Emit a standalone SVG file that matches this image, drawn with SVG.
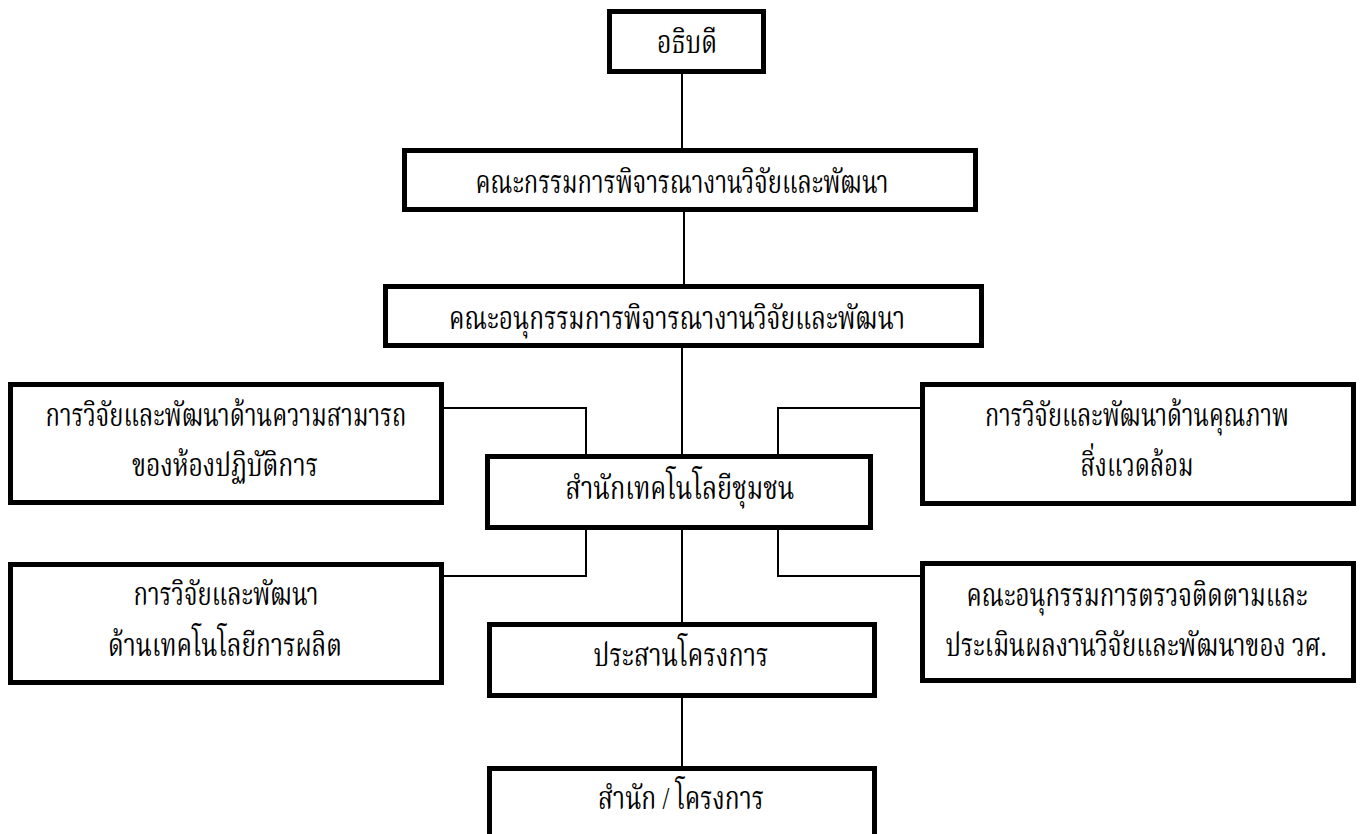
<svg xmlns="http://www.w3.org/2000/svg" width="1360" height="834" viewBox="0 0 1360 834">
<style>
.box{fill:#fff;stroke:#000;stroke-width:5}
.c{fill:none;stroke:#000;stroke-width:2}
text{font-family:"Liberation Serif","DejaVu Serif","Noto Serif Thai","Noto Sans Thai",serif;font-size:32px;fill:#000;text-anchor:middle}
</style>
<rect width="1360" height="834" fill="#fff"/>
<g id="connectors">
<line class="c" x1="682" y1="74" x2="682" y2="148"/>
<line class="c" x1="684" y1="212" x2="684" y2="284"/>
<line class="c" x1="682" y1="348" x2="682" y2="454"/>
<polyline class="c" points="444,408 586,408 586,454"/>
<polyline class="c" points="920,408 778,408 778,454"/>
<polyline class="c" points="586,530 586,576 444,576"/>
<polyline class="c" points="778,530 778,576 920,576"/>
<line class="c" x1="682" y1="530" x2="682" y2="622"/>
<line class="c" x1="682" y1="698" x2="682" y2="766"/>
</g>
<g id="n1"><rect class="box" x="609.5" y="11.5" width="154" height="60"/><text x="687" y="53" textLength="60" lengthAdjust="spacingAndGlyphs">อธิบดี</text></g>
<g id="n2"><rect class="box" x="404.5" y="150.5" width="571" height="59"/><text x="682" y="193" textLength="413" lengthAdjust="spacingAndGlyphs">คณะกรรมการพิจารณางานวิจัยและพัฒนา</text></g>
<g id="n3"><rect class="box" x="385.5" y="286.5" width="596" height="59"/><text x="677" y="329" textLength="456" lengthAdjust="spacingAndGlyphs">คณะอนุกรรมการพิจารณางานวิจัยและพัฒนา</text></g>
<g id="n4"><rect class="box" x="10.5" y="384.5" width="431" height="118"/><text x="226" y="426" textLength="361" lengthAdjust="spacingAndGlyphs">การวิจัยและพัฒนาด้านความสามารถ</text><text x="225" y="476" textLength="186" lengthAdjust="spacingAndGlyphs">ของห้องปฏิบัติการ</text></g>
<g id="n5"><rect class="box" x="922.5" y="384.5" width="431" height="119"/><text x="1137" y="426" textLength="304" lengthAdjust="spacingAndGlyphs">การวิจัยและพัฒนาด้านคุณภาพ</text><text x="1137" y="476" textLength="113" lengthAdjust="spacingAndGlyphs">สิ่งแวดล้อม</text></g>
<g id="n6"><rect class="box" x="487.5" y="456.5" width="383" height="71"/><text x="680" y="499" textLength="229" lengthAdjust="spacingAndGlyphs">สำนักเทคโนโลยีชุมชน</text></g>
<g id="n7"><rect class="box" x="10.5" y="564.5" width="431" height="118"/><text x="226" y="605" textLength="185" lengthAdjust="spacingAndGlyphs">การวิจัยและพัฒนา</text><text x="225" y="656" textLength="234" lengthAdjust="spacingAndGlyphs">ด้านเทคโนโลยีการผลิต</text></g>
<g id="n8"><rect class="box" x="922.5" y="563.5" width="431" height="117"/><text x="1137" y="606" textLength="341" lengthAdjust="spacingAndGlyphs">คณะอนุกรรมการตรวจติดตามและ</text><text x="1136" y="656" textLength="381" lengthAdjust="spacingAndGlyphs">ประเมินผลงานวิจัยและพัฒนาของ วศ.</text></g>
<g id="n9"><rect class="box" x="489.5" y="624.5" width="385" height="71"/><text x="681" y="666" textLength="175" lengthAdjust="spacingAndGlyphs">ประสานโครงการ</text></g>
<g id="n10"><rect class="box" x="489.5" y="768.5" width="385" height="80"/><text x="681" y="809" textLength="166" lengthAdjust="spacingAndGlyphs">สำนัก / โครงการ</text></g>
</svg>
